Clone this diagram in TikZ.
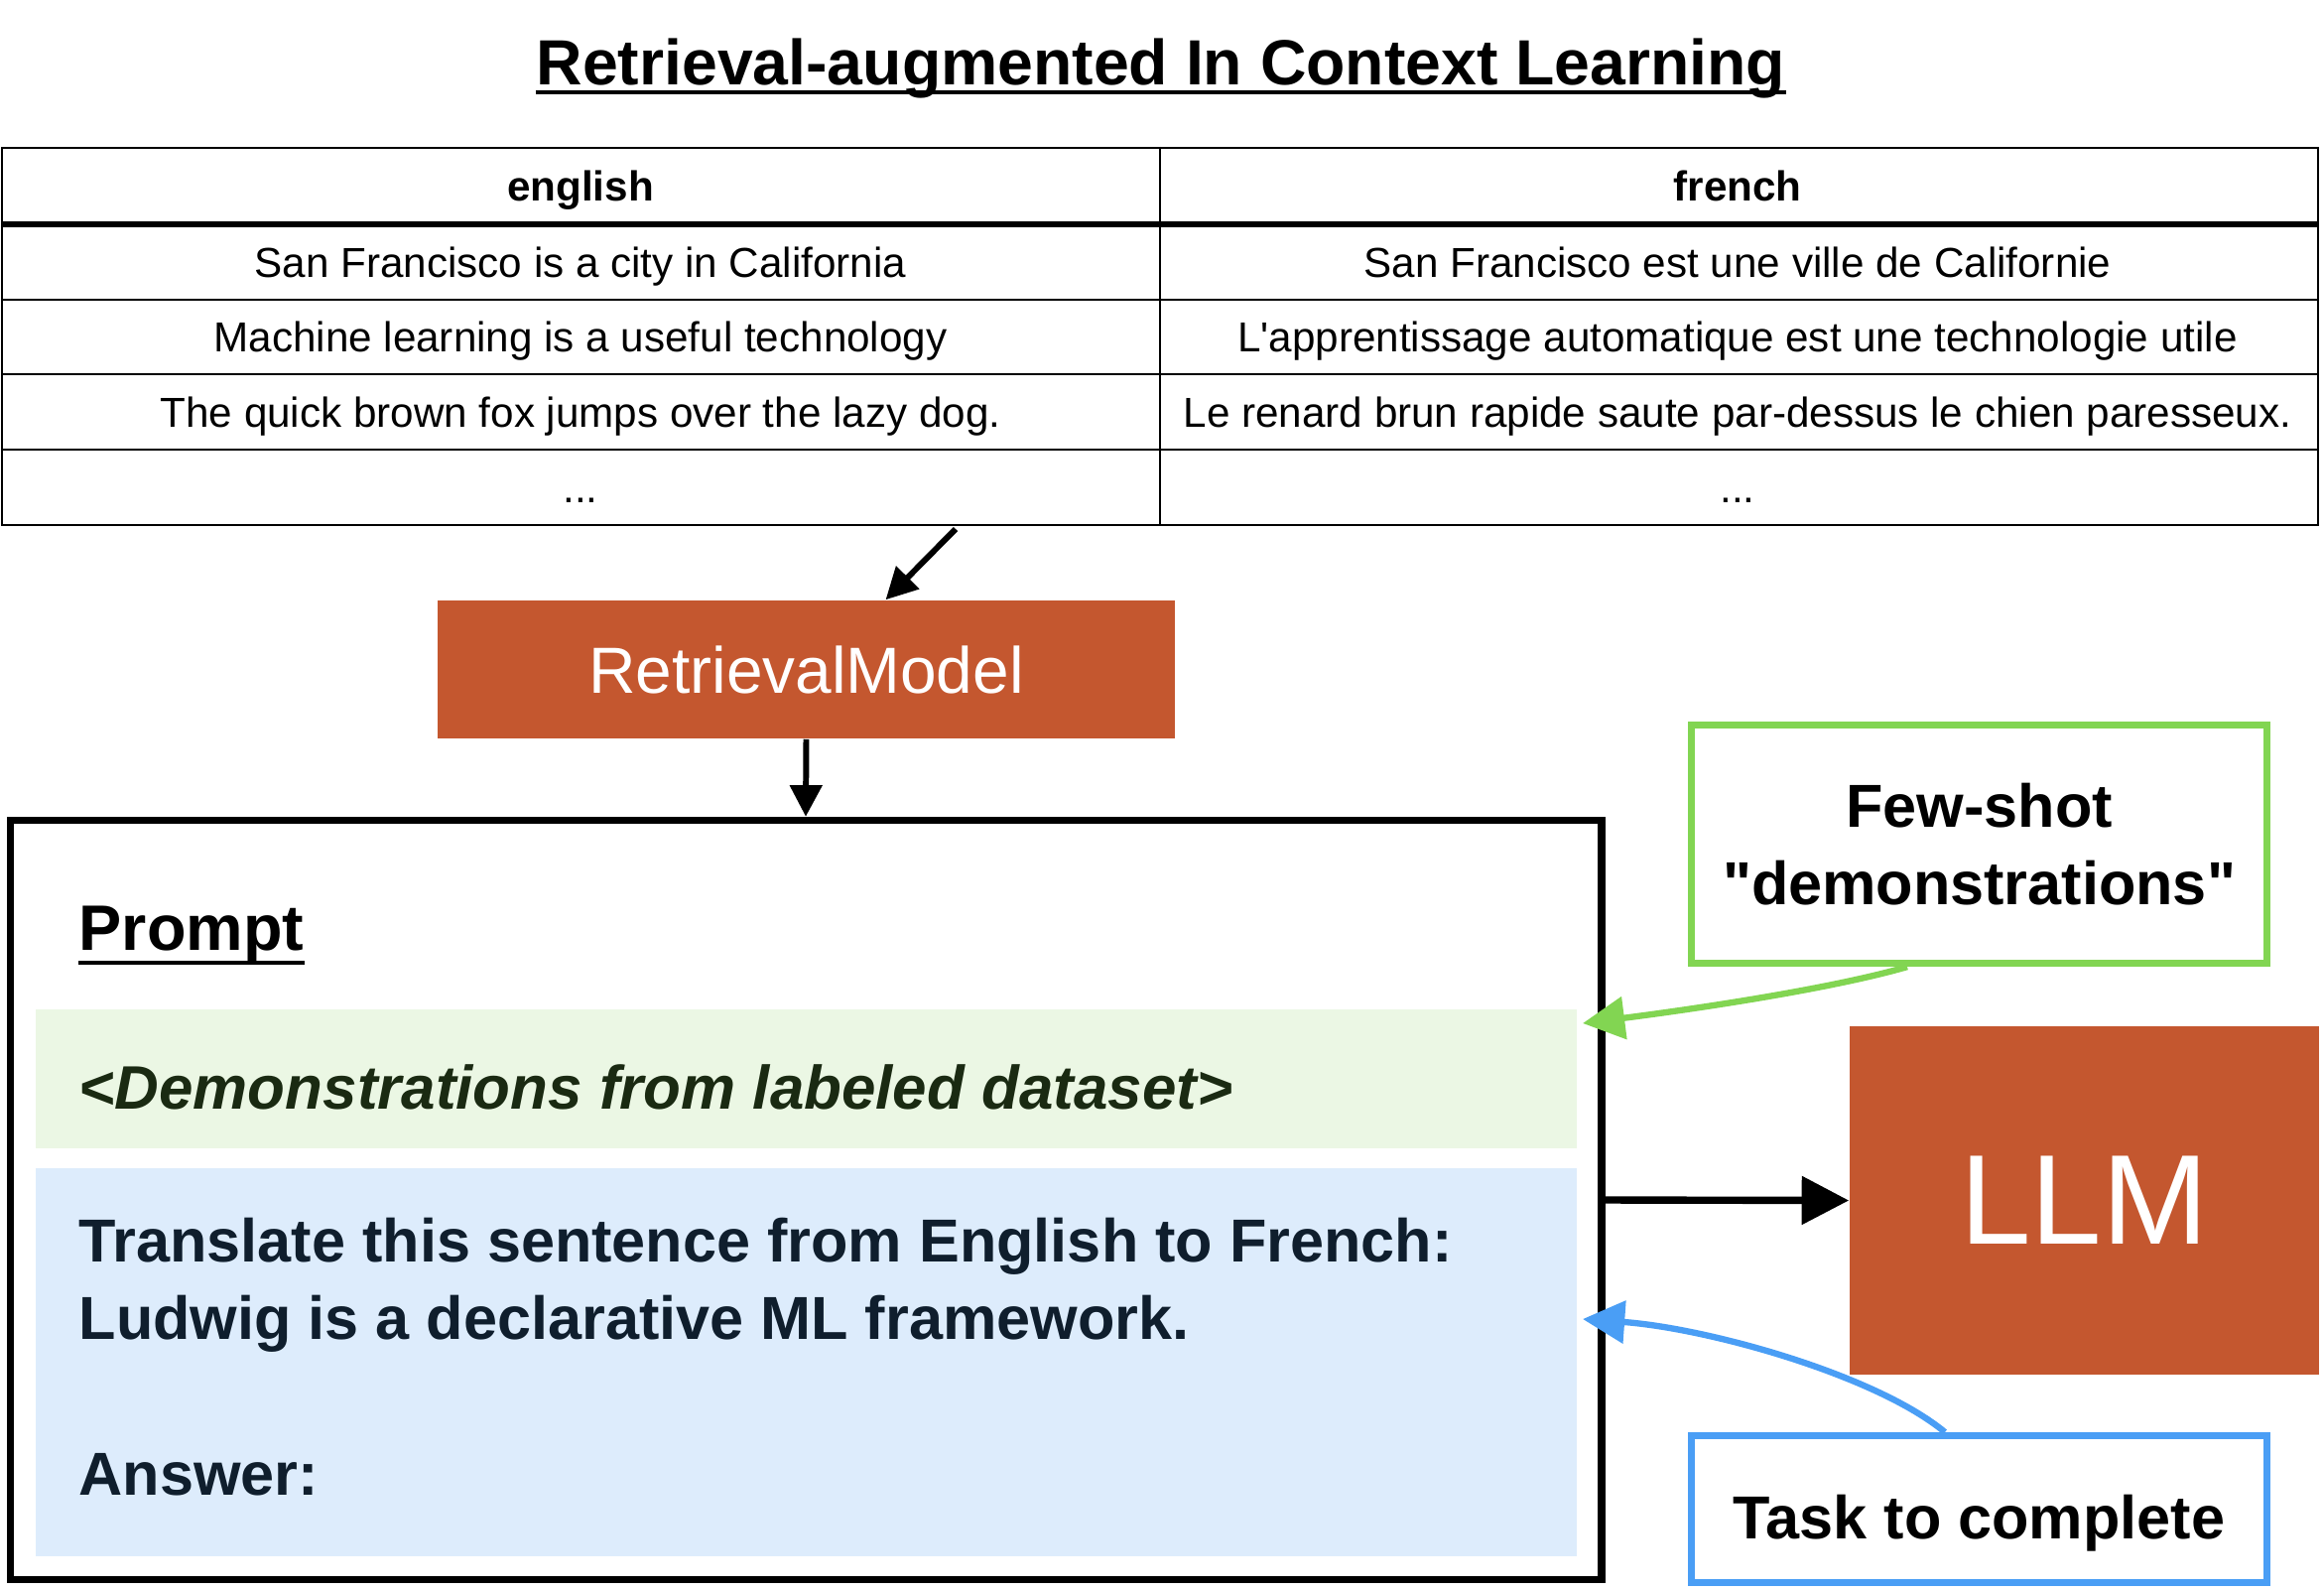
\documentclass[tikz,border=0pt]{standalone}
\usepackage{fontspec}
\setmainfont{Liberation Sans}
\usepackage{tikz}
\usetikzlibrary{arrows.meta,positioning}

\definecolor{rmred}{HTML}{C4572F}
\definecolor{shotgreen}{HTML}{82D552}
\definecolor{taskblue}{HTML}{4A9EF5}
\definecolor{demofill}{HTML}{EBF7E4}
\definecolor{taskfill}{HTML}{DDECFC}
\definecolor{demotext}{HTML}{1A2A12}
\definecolor{tasktext}{HTML}{0F1E2D}

\begin{document}
\begin{tikzpicture}[x=0.01cm,y=-0.01cm]
\tikzstyle{cell}=[inner sep=0pt, anchor=base, font=\fontsize{12}{14}\selectfont]
\tikzstyle{head}=[cell, font=\fontsize{12}{14}\selectfont\bfseries]
\tikzstyle{redbox}=[fill=rmred, text=white, inner sep=0pt]
\tikzstyle{tag}=[draw, line width=2pt, inner sep=0pt, align=center, minimum width=5.8cm, font=\fontsize{17.4}{22}\selectfont\bfseries]
\tikzstyle{band}=[inner sep=0pt, minimum width=15.53cm]
\tikzstyle{bandtext}=[inner sep=0pt, anchor=base west, align=left]
\tikzstyle{arr}=[-{Triangle[length=9pt,width=9pt]}, line width=1.7pt]

\useasboundingbox (0,0) rectangle (2342,1602);

\node[inner sep=0pt, anchor=base, font=\fontsize{18.3}{22}\selectfont\bfseries] (title) at (1170,85) {Retrieval-augmented In Context Learning};
\draw[line width=1.1pt] ([yshift=-2.3pt]title.base west) -- ([yshift=-2.3pt]title.base east);

\node[draw, line width=0.6pt, minimum width=23.32cm, minimum height=3.8cm, inner sep=0pt] (tbl) at (1169,339) {};
\draw[line width=0.6pt] (tbl.north) -- (tbl.south);
\draw[line width=1.5pt] (tbl.west |- 0,226) -- (tbl.east |- 0,226);
\foreach \y in {302,377,453}
  \draw[line width=0.6pt] (tbl.west |- 0,\y) -- (tbl.east |- 0,\y);

\node[head] (en) at (585,202) {english};
\node[head] (fr) at (1751,202) {french};
\node[cell] (en1) at (585,279) {San Francisco is a city in California};
\node[cell] (fr1) at (1751,279) {San Francisco est une ville de Californie};
\node[cell] (en2) at (585,354) {Machine learning is a useful technology};
\node[cell] (fr2) at (1751,354) {L\textquotesingle apprentissage automatique est une technologie utile};
\node[cell] (en3) at (585,430) {The quick brown fox jumps over the lazy dog.};
\node[cell] (fr3) at (1751,430) {Le renard brun rapide saute par-dessus le chien paresseux.};
\node[cell] (en4) at (585,506) {...};
\node[cell] (fr4) at (1751,506) {...};

\node[redbox, minimum width=7.43cm, minimum height=1.39cm, font=\fontsize{18.7}{22}\selectfont] (rm) at (812.5,674.5) {RetrievalModel};
\coordinate (tblout) at (963,533);
\draw[arr] (tblout) -- ([xshift=0.8cm]rm.north);

\node[draw, line width=2pt, minimum width=16.03cm, minimum height=7.65cm, inner sep=0pt] (prompt) at (812,1209) {};
\draw[arr] (rm.south) -- (prompt.north);

\node[inner sep=0pt, anchor=base west, font=\fontsize{18.4}{22}\selectfont\bfseries] (ptitle) at (79,957) {Prompt};
\draw[line width=0.9pt] ([yshift=-3.7pt]ptitle.base west) -- ([yshift=-3.7pt]ptitle.base east);

\node[band, fill=demofill, minimum height=1.40cm] (demo) at (812.5,1087) {};
\node[bandtext, text=demotext, font=\fontsize{17.6}{22.2}\selectfont\bfseries\itshape] (demotxt) at (79,1117) {<Demonstrations from labeled dataset>};
\node[band, fill=taskfill, minimum height=3.91cm] (query) at (812.5,1372.5) {};
\node[bandtext, text=tasktext, font=\fontsize{17.4}{22.2}\selectfont\bfseries] (querytxt) at (79,1506) {Translate this sentence from English to French:\\ Ludwig is a declarative ML framework.\\[22.2pt] Answer:};

\node[redbox, minimum width=4.73cm, minimum height=3.51cm, font=\fontsize{36.6}{40}\selectfont] (llm) at (2100.5,1209.5) {LLM};
\draw[-{Triangle[length=13.5pt,width=13.5pt]}, line width=2.1pt] (prompt.east) -- (llm.west);

\node[tag, draw=shotgreen, minimum height=2.4cm] (shot) at (1994.5,850.5) {Few-shot\\\textquotedbl demonstrations\textquotedbl};
\node[tag, draw=taskblue, minimum height=1.48cm, text height=20.5pt] (task) at (1994.5,1520.5) {Task to complete};

\coordinate (demoin) at (1595,1031);
\coordinate (taskin) at (1595,1329);
\draw[-{Triangle[length=12pt,width=12pt]}, line width=1.8pt, shotgreen] ([xshift=-0.725cm]shot.south) .. controls (1850,995) and (1720,1015) .. (demoin);
\draw[-{Triangle[length=12pt,width=12pt]}, line width=1.8pt, taskblue] ([xshift=-0.345cm]task.north) .. controls (1890,1385) and (1720,1338) .. (taskin);
\end{tikzpicture}
\end{document}
